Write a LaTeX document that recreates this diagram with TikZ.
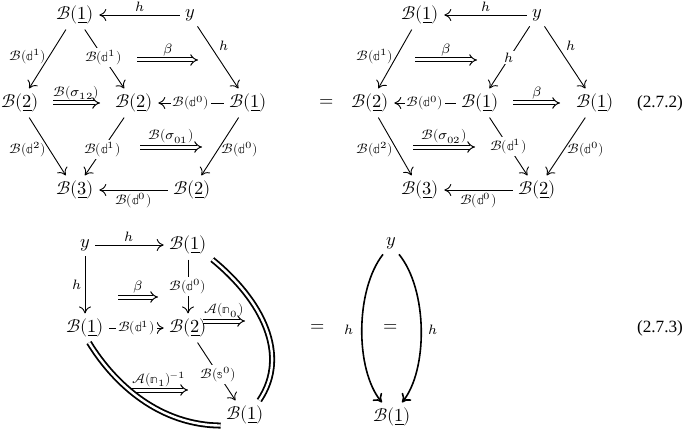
\documentclass[tikz,border=0pt]{standalone}
\usepackage{unicode-math}
\usetikzlibrary{arrows.meta}
\newfontfamily\tagfont{Liberation Serif}
\newcommand{\Bc}{\mathcal{B}}
\newcommand{\Ac}{\mathcal{A}}
\newcommand{\bbd}{\mathbb{d}}
\begin{document}
\begin{tikzpicture}[x=0.5pt,y=-0.5pt, font=\fontsize{9.2}{11}\selectfont,
 obj/.style={inner sep=2.5pt},
 lbl/.style={font=\fontsize{6.8}{8}\selectfont, inner sep=1.5pt},
 mlbl/.style={lbl, fill=white, inner sep=1pt},
 ar/.style={line width=0.45pt, -{Computer Modern Rightarrow[length=3.5pt,width=6pt]}},
 tc/.style={double, double distance=1.5pt, line width=0.5pt, -{Implies}},
 eqc/.style={double, double distance=1.2pt, line width=0.9pt},
 thk/.style={line width=0.8pt, -{Computer Modern Rightarrow[length=4pt,width=6pt]}},
 tagstyle/.style={font=\tagfont\fontsize{8.6}{10}\selectfont}]
\useasboundingbox (0,0) rectangle (685,433);

% ---------- top-left ----------
\node[obj] (a1) at (75,15) {$\Bc(\underline{1})$};
\node[obj] (ay) at (190,15) {$y$};
\node[obj] (a2l) at (20,103) {$\Bc(\underline{2})$};
\node[obj] (a2m) at (134,103) {$\Bc(\underline{2})$};
\node[obj] (a1r) at (248,103) {$\Bc(\underline{1})$};
\node[obj] (a3) at (75,190) {$\Bc(\underline{3})$};
\node[obj] (a2b) at (192,190) {$\Bc(\underline{2})$};
\draw[ar] (ay) -- node[lbl,above]{$h$} (a1);
\draw[ar] (a1) -- node[lbl,left,pos=0.45]{$\Bc(\bbd^1)$} (a2l);
\draw[ar] (a1) -- node[mlbl,pos=0.47]{$\Bc(\bbd^1)$} (a2m);
\draw[ar] (ay) -- node[lbl,above right,pos=0.45]{$h$} (a1r);
\draw[ar] (a1r) -- node[mlbl]{$\Bc(\bbd^0)$} (a2m);
\draw[ar] (a2l) -- node[lbl,left,pos=0.55]{$\Bc(\bbd^2)$} (a3);
\draw[ar] (a2m) -- node[mlbl,pos=0.55]{$\Bc(\bbd^1)$} (a3);
\draw[ar] (a1r) -- node[lbl,right,pos=0.55]{$\Bc(\bbd^0)$} (a2b);
\draw[ar] (a2b) -- node[lbl,below]{$\Bc(\bbd^0)$} (a3);
\coordinate (p1) at (137,60); \coordinate (q1) at (198,60);
\draw[tc] (p1) -- node[lbl,above]{$\beta$} (q1);
\coordinate (p2) at (53,103); \coordinate (q2) at (100,103);
\draw[tc] (p2) -- node[lbl,above]{$\Bc(\sigma_{12})$} (q2);
\coordinate (p3) at (140,147); \coordinate (q3) at (202,147);
\draw[tc] (p3) -- node[lbl,above]{$\Bc(\sigma_{01})$} (q3);

\node[obj] (eq1) at (327,103) {$=$};

% ---------- top-right ----------
\node[obj] (b1) at (420,15) {$\Bc(\underline{1})$};
\node[obj] (by) at (537,15) {$y$};
\node[obj] (b2l) at (370,103) {$\Bc(\underline{2})$};
\node[obj] (b1m) at (480,103) {$\Bc(\underline{1})$};
\node[obj] (b1r) at (595,103) {$\Bc(\underline{1})$};
\node[obj] (b3) at (420,190) {$\Bc(\underline{3})$};
\node[obj] (b2b) at (537,190) {$\Bc(\underline{2})$};
\draw[ar] (by) -- node[lbl,above]{$h$} (b1);
\draw[ar] (b1) -- node[lbl,left,pos=0.45]{$\Bc(\bbd^1)$} (b2l);
\draw[ar] (by) -- node[mlbl,pos=0.5]{$h$} (b1m);
\draw[ar] (by) -- node[lbl,above right,pos=0.45]{$h$} (b1r);
\draw[ar] (b1m) -- node[mlbl]{$\Bc(\bbd^0)$} (b2l);
\draw[ar] (b2l) -- node[lbl,left,pos=0.55]{$\Bc(\bbd^2)$} (b3);
\draw[ar] (b1m) -- node[mlbl,pos=0.5]{$\Bc(\bbd^1)$} (b2b);
\draw[ar] (b1r) -- node[lbl,right,pos=0.55]{$\Bc(\bbd^0)$} (b2b);
\draw[ar] (b2b) -- node[lbl,below]{$\Bc(\bbd^0)$} (b3);
\coordinate (p4) at (415,60); \coordinate (q4) at (477,60);
\draw[tc] (p4) -- node[lbl,above]{$\beta$} (q4);
\coordinate (p5) at (513,103); \coordinate (q5) at (560,103);
\draw[tc] (p5) -- node[lbl,above]{$\beta$} (q5);
\coordinate (p6) at (413,147); \coordinate (q6) at (475,147);
\draw[tc] (p6) -- node[lbl,above]{$\Bc(\sigma_{02})$} (q6);

\node[tagstyle] (tag1) at (660,103) {(2.7.2)};

% ---------- bottom-left ----------
\node[obj] (cy) at (85,245) {$y$};
\node[obj] (c1t) at (188,245) {$\Bc(\underline{1})$};
\node[obj] (c1l) at (85,328) {$\Bc(\underline{1})$};
\node[obj] (c2) at (188,328) {$\Bc(\underline{2})$};
\node[obj] (c1b) at (245,415) {$\Bc(\underline{1})$};
\draw[ar] (cy) -- node[lbl,above]{$h$} (c1t);
\draw[ar] (cy) -- node[lbl,left]{$h$} (c1l);
\draw[ar] (c1t) -- node[mlbl]{$\Bc(\bbd^0)$} (c2);
\draw[ar] (c1l) -- node[mlbl]{$\Bc(\bbd^1)$} (c2);
\draw[ar] (c2) -- node[mlbl,pos=0.55]{$\Bc(\mathbb{s}^0)$} (c1b);
\coordinate (p7) at (118,297); \coordinate (q7) at (158,297);
\draw[tc] (p7) -- node[lbl,above]{$\beta$} (q7);
\coordinate (p8) at (203,321); \coordinate (q8) at (245,321);
\draw[tc] (p8) -- node[lbl,above]{$\Ac(\mathbb{n}_0)$} (q8);
\coordinate (p9) at (130,390); \coordinate (q9) at (188,390);
\draw[tc] (p9) -- node[lbl,above]{$\Ac(\mathbb{n}_1)^{-1}$} (q9);
\draw[eqc] (c1t.south east) .. controls (262,300) and (290,355) .. ([xshift=-5pt]c1b.north east);
\draw[eqc] ([xshift=2pt]c1l.south) .. controls (115,385) and (160,425) .. ([yshift=2pt]c1b.south west);

\node[obj] (eq2) at (318,328) {$=$};

% ---------- bottom-right ----------
\node[obj] (dy) at (391,243) {$y$};
\node[obj] (d1) at (392,417) {$\Bc(\underline{1})$};
\draw[thk] ([xshift=-4pt]dy.south) .. controls (355,290) and (355,370) .. node[lbl,left=2pt]{$h$} ([xshift=-5pt]d1.north);
\draw[thk] ([xshift=4pt]dy.south) .. controls (428,290) and (428,370) .. node[lbl,right=2pt]{$h$} ([xshift=5pt]d1.north);
\node[obj] (eq3) at (391,328) {$=$};

\node[tagstyle] (tag2) at (660,328) {(2.7.3)};
\end{tikzpicture}
\end{document}
